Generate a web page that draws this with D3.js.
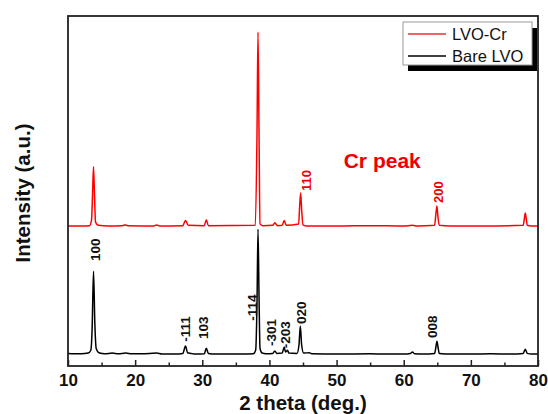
<!DOCTYPE html>
<html>
<head>
<meta charset="utf-8">
<script src="https://cdn.jsdelivr.net/npm/d3@7"></script>
<style>
  body { margin: 0; background: #fff; }
  svg { display: block; font-family: "Liberation Sans", Arial, sans-serif; }
</style>
</head>
<body>
<div id="chart"></div>
<script>
// XRD patterns: [2 theta, intensity (a.u.)]
const barePattern = [
  [10, 36], [11, 35], [12, 35], [13, 37], [13.4, 45], [13.6, 110], [13.8, 271], [14.0, 120],
  [14.2, 50], [14.6, 38], [15.5, 35], [16.6, 37], [17.5, 35], [18.6, 37], [19.5, 35], [21, 35],
  [23.2, 37], [24, 34], [26, 34], [27.1, 36], [27.5, 57], [27.8, 38], [28.3, 36], [29, 34],
  [30.3, 35], [30.6, 51], [30.9, 36], [32, 34], [34, 34], [36, 34], [37.6, 35], [37.95, 45],
  [38.15, 180], [38.3, 391], [38.45, 200], [38.6, 50], [38.9, 37], [39.5, 35], [40.5, 36],
  [40.8, 43], [41.1, 36], [41.9, 37], [42.2, 54], [42.4, 40], [42.7, 45], [42.9, 37], [44.1, 36],
  [44.4, 60], [44.6, 114], [44.8, 60], [45.1, 37], [45.9, 38], [46.3, 35], [50, 34], [55, 35],
  [57, 34], [60, 34], [61, 36], [61.3, 40], [61.6, 35], [63, 34], [64.6, 36], [64.8, 55],
  [64.95, 71], [65.1, 55], [65.3, 36], [67, 34], [70, 34], [73, 35], [76, 34], [77.8, 36],
  [78.1, 48], [78.4, 36], [79, 34], [80, 34]
];

const crPattern = [
  [10, 34], [12, 34], [13.2, 35], [13.5, 50], [13.65, 120], [13.8, 203], [13.95, 120], [14.1, 45],
  [14.5, 36], [16, 34], [18.1, 35], [18.5, 37], [18.9, 35], [22.8, 34], [23.2, 37], [23.6, 34],
  [27.1, 35], [27.5, 50], [27.9, 36], [30.3, 35], [30.6, 52], [30.9, 35], [37.9, 36], [38.15, 300],
  [38.3, 588], [38.45, 300], [38.6, 40], [39, 35], [40.5, 36], [40.8, 43], [41.2, 35], [41.9, 36],
  [42.2, 50], [42.5, 36], [44.35, 40], [44.5, 90], [44.65, 128], [44.8, 80], [45, 37], [45.5, 34],
  [50, 34], [55, 35], [60, 34], [61.3, 36], [62, 34], [64.6, 36], [64.8, 70], [64.95, 91],
  [65.1, 60], [65.3, 36], [67, 34], [72, 34], [77.8, 36], [78, 60], [78.1, 71], [78.25, 55],
  [78.4, 36], [79, 34], [80, 34]
];

// vertical stacking offset of the LVO-Cr pattern
const crOffset = 366;

// peak index labels: [text, 2 theta, intensity]
const bareLabels = [
  ["100", 14.0, 300], ["-111", 27.4, 69], ["103", 30.1, 77], ["-114", 37.4, 129],
  ["-301", 40.2, 57], ["-203", 42.3, 51], ["020", 44.7, 120], ["008", 64.2, 80]
];
const crLabels = [["110", 45.45, 134], ["200", 65.1, 100]];

const xMajorTicks = [10, 20, 30, 40, 50, 60, 70, 80];
const xMinorTicks = [15, 25, 35, 45, 55, 65, 75];
const seriesNames = ["LVO-Cr", "Bare LVO"];
const seriesColors = ["#ff0000", "#000000"];

const width = 548, height = 414;
const margin = { top: 16, right: 10, bottom: 48, left: 68 };

const svg = d3.select("#chart").append("svg")
  .attr("width", width)
  .attr("height", height);

const x = d3.scaleLinear().domain([10, 80]).range([margin.left, width - margin.right]);
const y = d3.scaleLinear().domain([0, 1000]).range([height - margin.bottom, margin.top]);

const line = d3.line()
  .x(d => x(d[0]))
  .y(d => y(d[1]))
  .curve(d3.curveMonotoneX);

// patterns
svg.append("path")
  .datum(barePattern)
  .attr("d", line)
  .attr("fill", "none")
  .attr("stroke", seriesColors[1])
  .attr("stroke-width", 1.5);

svg.append("path")
  .datum(crPattern.map(d => [d[0], d[1] + crOffset]))
  .attr("d", line)
  .attr("fill", "none")
  .attr("stroke", seriesColors[0])
  .attr("stroke-width", 1.5);

// frame
svg.append("rect")
  .attr("x", x(10))
  .attr("y", y(1000))
  .attr("width", x(80) - x(10))
  .attr("height", y(0) - y(1000))
  .attr("fill", "none")
  .attr("stroke", "#222")
  .attr("stroke-width", 1.8);

// x axis, ticks pointing inward
const xAxis = svg.append("g")
  .attr("transform", "translate(0," + y(0) + ")")
  .call(d3.axisBottom(x).tickValues(xMajorTicks).tickSizeInner(-6).tickSizeOuter(0).tickPadding(8));
xAxis.select(".domain").remove();
xAxis.selectAll(".tick line").attr("stroke", "#222").attr("stroke-width", 1.5);
xAxis.selectAll(".tick text")
  .attr("fill", "#111")
  .style("font-size", "17px")
  .style("font-weight", "bold");

const xMinor = svg.append("g")
  .attr("transform", "translate(0," + y(0) + ")")
  .call(d3.axisBottom(x).tickValues(xMinorTicks).tickSizeInner(-3.5).tickSizeOuter(0).tickFormat(""));
xMinor.select(".domain").remove();
xMinor.selectAll(".tick line").attr("stroke", "#222").attr("stroke-width", 1.5);

// axis titles
svg.append("text")
  .attr("x", (x(10) + x(80)) / 2)
  .attr("y", 410)
  .attr("text-anchor", "middle")
  .style("font-size", "20.5px")
  .style("font-weight", "bold")
  .attr("fill", "#111")
  .text("2 theta (deg.)");

svg.append("text")
  .attr("transform", "translate(30," + (y(500) + 2) + ") rotate(-90)")
  .attr("text-anchor", "middle")
  .style("font-size", "20.5px")
  .style("font-weight", "bold")
  .attr("fill", "#111")
  .text("Intensity (a.u.)");

// peak labels
function addLabels(labels, offset, color, size) {
  svg.selectAll(null)
    .data(labels)
    .enter()
    .append("text")
    .attr("transform", d => "translate(" + x(d[1]) + "," + y(d[2] + offset) + ") rotate(-90)")
    .attr("dy", "0.36em")
    .attr("fill", color)
    .style("font-size", size)
    .style("font-weight", "bold")
    .text(d => d[0]);
}
addLabels(bareLabels, 0, "#111", "13.5px");
addLabels(crLabels, crOffset, "#ee0000", "13px");

svg.append("text")
  .attr("x", x(56.8))
  .attr("y", y(566))
  .attr("text-anchor", "middle")
  .attr("fill", "#ee0000")
  .style("font-size", "21px")
  .style("font-weight", "bold")
  .text("Cr peak");

// legend with drop shadow
const legend = svg.append("g").attr("transform", "translate(403,22)");
legend.append("rect")
  .attr("x", 5).attr("y", 6)
  .attr("width", 129).attr("height", 43)
  .attr("fill", "#000");
legend.append("rect")
  .attr("width", 129).attr("height", 43)
  .attr("fill", "#fff")
  .attr("stroke", "#999")
  .attr("stroke-width", 1);

const rows = legend.selectAll("g.row")
  .data(seriesNames)
  .enter()
  .append("g")
  .attr("class", "row")
  .attr("transform", (d, i) => "translate(0," + (12 + i * 22) + ")");
rows.append("line")
  .attr("x1", 5).attr("x2", 43)
  .attr("stroke", (d, i) => i === 0 ? "#e83030" : "#000")
  .attr("stroke-width", 1.6);
rows.append("text")
  .attr("x", 49)
  .attr("dy", "0.36em")
  .style("font-size", "16.5px")
  .attr("fill", "#111")
  .text(d => d);
</script>
</body>
</html>
